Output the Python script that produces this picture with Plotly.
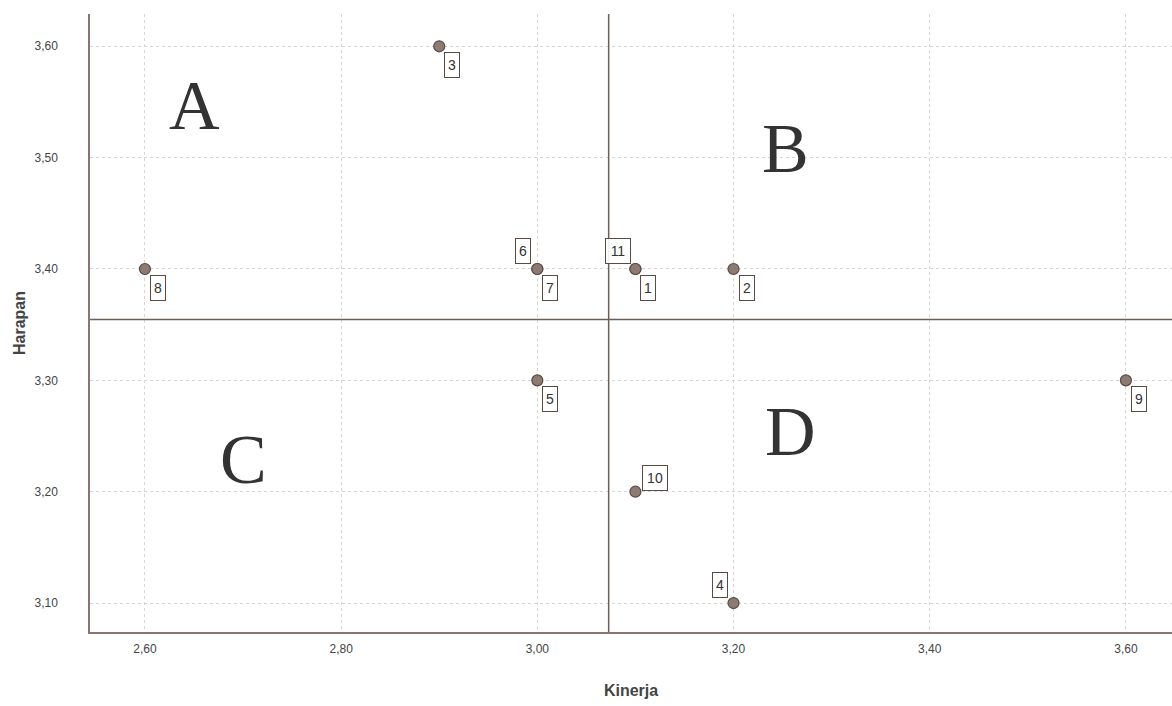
import plotly.graph_objects as go

# ---- data ----
case_ids = ["1", "2", "3", "4", "5", "6", "7", "8", "9", "10", "11"]
kinerja = [3.10, 3.20, 2.90, 3.20, 3.00, 3.00, 3.00, 2.60, 3.60, 3.10, 3.10]
harapan = [3.40, 3.40, 3.60, 3.10, 3.30, 3.40, 3.40, 3.40, 3.30, 3.20, 3.40]
x_ticks = [2.60, 2.80, 3.00, 3.20, 3.40, 3.60]
y_ticks = [3.10, 3.20, 3.30, 3.40, 3.50, 3.60]
quadrant_names = ["A", "B", "C", "D"]
quadrant_x = [2.651, 3.253, 2.700, 3.258]
quadrant_y = [3.547, 3.508, 3.229, 3.254]

mean_x = sum(kinerja) / len(kinerja)
mean_y = sum(harapan) / len(harapan)

# label placement (screen offsets in px) per case
label_pos = {"1": "dr", "2": "dr", "3": "dr", "4": "ul", "5": "dr", "6": "ul",
             "7": "dr", "8": "dr", "9": "dr", "10": "ur", "11": "ul"}
offsets = {"dr": (13, -19), "ul": (-14, 18), "ur": (17, 14)}

fig = go.Figure()
fig.add_trace(go.Scatter(
    x=kinerja, y=harapan, mode="markers",
    marker=dict(size=11, color="#8c7b73", line=dict(color="#5a4a44", width=1.2)),
    hoverinfo="x+y", showlegend=False))

annotations = []
for cid, xv, yv in zip(case_ids, kinerja, harapan):
    dx, dy = offsets[label_pos[cid]]
    if len(cid) > 1:
        dx += -3 if dx < 0 else 3
    annotations.append(dict(
        x=xv, y=yv, xref="x", yref="y", text=cid, showarrow=False,
        xshift=dx, yshift=dy, width=10 * len(cid), height=20,
        font=dict(family="Liberation Sans, Arial", size=14, color="#333"),
        bordercolor="#5a4a44", borderwidth=1, borderpad=2, bgcolor="rgba(255,255,255,0.9)"))

for name, qx, qy in zip(quadrant_names, quadrant_x, quadrant_y):
    annotations.append(dict(
        x=qx, y=qy, xref="x", yref="y", text=name, showarrow=False,
        font=dict(family="Liberation Serif, Times New Roman", size=70, color="#333333")))

fig.add_shape(type="line", xref="x", yref="paper", x0=mean_x, x1=mean_x, y0=0, y1=1,
              line=dict(color="#6e5c57", width=1.5))
fig.add_shape(type="line", xref="paper", yref="y", x0=0, x1=1, y0=mean_y, y1=mean_y,
              line=dict(color="#6e5c57", width=1.5))

fig.update_layout(
    width=1172, height=706,
    margin=dict(l=90, r=0, t=14, b=74),
    paper_bgcolor="white", plot_bgcolor="white",
    separators=", ",
    annotations=annotations,
    font=dict(family="Liberation Sans, Arial", color="#444"),
    xaxis=dict(
        range=[2.544, 3.647], tickvals=x_ticks, tickformat=".2f",
        showgrid=True, gridcolor="#dcd4d2", griddash="dot", gridwidth=1,
        showline=True, linecolor="#8a7570", linewidth=1.5, zeroline=False,
        ticks="", tickfont=dict(size=12, color="#444"), ticklabelstandoff=5,
        title=dict(text="<b>Kinerja</b>", font=dict(size=16, color="#444"), standoff=30)),
    yaxis=dict(
        range=[3.074, 3.629], tickvals=y_ticks, tickformat=".2f",
        showgrid=True, gridcolor="#dcd4d2", griddash="dot", gridwidth=1,
        showline=True, linecolor="#8a7570", linewidth=1.5, zeroline=False,
        ticks="", tickfont=dict(size=12, color="#444"), ticklabelstandoff=28,
        title=dict(text="<b>Harapan</b>", font=dict(size=16, color="#444"), standoff=5)),
)

fig.write_html(
    "out.html",
    config={"displayModeBar": False},
    post_script="document.body.style.margin='0';document.body.style.overflow='hidden';",
)
